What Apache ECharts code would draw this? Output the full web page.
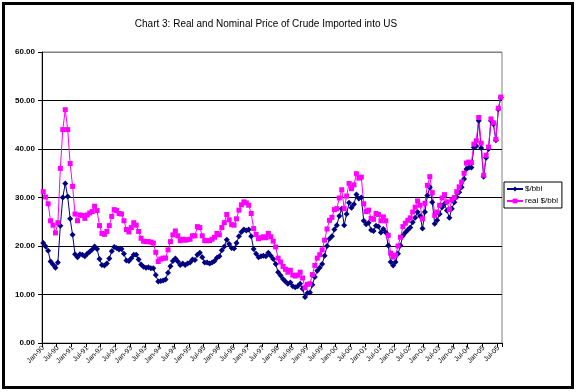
<!DOCTYPE html>
<html><head><meta charset="utf-8">
<script src="https://cdn.jsdelivr.net/npm/echarts@6/dist/echarts.min.js"></script>
<style>html,body{margin:0;padding:0;background:#fff}#c{width:576px;height:392px}</style>
</head><body><div id="c"></div>
<script>
var monthNames = ['Jan','Feb','Mar','Apr','May','Jun','Jul','Aug','Sep','Oct','Nov','Dec'];
var firstYear = 1990, lastYear = 2005, lastMonthCount = 8;
var yTicks = [0, 10, 20, 30, 40, 50, 60];

var nominal = [
 20.6, 19.9, 19.0, 16.8, 16.2, 15.5, 16.6, 24.2, 30.0, 32.9, 30.2, 25.6,
 22.3, 18.3, 17.7, 18.3, 18.2, 17.9, 18.4, 18.8, 19.3, 19.9, 19.4, 17.3,
 16.1, 16.0, 16.4, 17.4, 18.9, 19.8, 19.6, 19.3, 19.4, 18.4, 17.0, 16.9,
 17.5, 18.2, 18.2, 17.2, 16.2, 15.7, 15.5, 15.6, 15.4, 15.4, 14.0, 12.7,
 12.8, 12.9, 13.1, 14.5, 15.8, 16.9, 17.4, 16.8, 16.1, 16.4, 16.1, 16.4,
 16.6, 17.2, 17.1, 18.2, 18.6, 17.7, 16.6, 16.6, 16.4, 16.6, 16.9, 17.6,
 17.9, 19.1, 19.9, 21.3, 20.4, 19.6, 19.5, 20.6, 22.0, 22.9, 23.4, 23.2,
 23.4, 22.0, 19.4, 18.4, 17.7, 17.9, 18.0, 17.9, 18.6, 18.0, 17.3, 16.3,
 14.6, 13.9, 13.2, 12.7, 12.2, 12.5, 11.7, 11.5, 11.7, 12.2, 11.2, 9.5,
 10.3, 10.4, 12.0, 13.6, 14.9, 15.5, 16.3, 18.0, 20.0, 21.5, 22.0, 23.4,
 24.3, 26.2, 27.7, 24.3, 26.6, 28.9, 27.9, 28.6, 30.6, 29.8, 30.0, 25.2,
 24.5, 24.8, 23.3, 23.1, 24.2, 24.0, 22.8, 23.5, 22.8, 20.1, 16.7, 16.0,
 16.7, 18.4, 20.1, 22.1, 22.8, 23.3, 23.8, 24.9, 25.8, 27.0, 26.2, 23.6,
 27.0, 30.4, 32.1, 29.0, 24.6, 25.3, 26.6, 28.0, 28.7, 27.3, 25.8, 27.7,
 29.0, 30.1, 31.1, 32.1, 33.8, 35.9, 36.2, 36.2, 40.3, 40.6, 45.8, 40.2,
 34.3, 38.2, 40.0, 45.8, 45.1, 41.8, 48.2, 50.6
];
var real = [
 31.2, 30.1, 28.7, 25.2, 24.3, 22.7, 24.8, 36.0, 44.0, 48.1, 44.0, 37.0,
 32.3, 26.6, 25.2, 26.4, 26.3, 25.7, 26.4, 26.8, 27.1, 28.2, 27.3, 24.2,
 22.6, 22.4, 23.0, 24.2, 26.1, 27.5, 27.3, 26.7, 26.6, 25.2, 23.4, 22.9,
 23.8, 24.8, 24.3, 23.0, 21.6, 21.0, 20.9, 20.9, 20.8, 20.6, 18.7, 16.8,
 17.3, 17.5, 17.5, 19.2, 20.9, 22.3, 23.1, 22.1, 21.1, 21.4, 21.2, 21.3,
 21.4, 22.1, 22.1, 24.0, 23.8, 22.1, 21.1, 21.1, 21.1, 21.4, 21.8, 22.6,
 22.3, 23.8, 24.8, 26.5, 25.4, 24.4, 24.3, 25.6, 27.4, 28.5, 29.1, 28.9,
 28.4, 26.7, 23.6, 22.4, 21.5, 21.7, 21.9, 21.7, 22.6, 21.9, 21.0, 19.8,
 17.5, 16.7, 15.8, 15.2, 14.6, 15.0, 14.0, 13.8, 14.0, 14.6, 13.4, 11.4,
 12.1, 12.2, 14.1, 16.0, 17.5, 18.2, 19.2, 21.2, 23.5, 25.3, 25.9, 27.5,
 27.7, 29.9, 31.6, 27.7, 30.3, 32.9, 31.8, 32.6, 34.9, 34.0, 34.2, 28.7,
 27.1, 27.4, 25.7, 25.5, 26.7, 26.5, 25.2, 26.0, 25.2, 22.2, 18.5, 17.7,
 18.1, 20.0, 21.8, 24.0, 24.7, 25.3, 25.8, 27.0, 28.0, 29.3, 28.4, 25.6,
 28.8, 32.5, 34.3, 31.0, 26.3, 27.0, 28.4, 29.9, 30.6, 29.1, 27.5, 29.5,
 30.0, 31.2, 32.2, 33.2, 35.0, 37.1, 37.3, 37.2, 41.0, 41.7, 46.5, 41.2,
 34.6, 38.7, 40.4, 46.2, 45.4, 42.0, 48.4, 50.7
];

var categories = [];
for (var y = firstYear; y <= lastYear; y++) {
  var n = (y === lastYear) ? lastMonthCount : 12;
  for (var m = 0; m < n; m++) categories.push(monthNames[m] + '-' + String(y).slice(2));
}

var FONT = 'Arial, "Liberation Sans", sans-serif';
var chart = echarts.init(document.getElementById('c'), null, {renderer: 'canvas'});
chart.setOption({
  animation: false,
  backgroundColor: '#fff',
  title: {
    text: 'Chart 3: Real and Nominal Price of Crude Imported into US',
    left: 261, top: 14, textAlign: 'center',
    textStyle: {fontFamily: FONT, fontSize: 10, fontWeight: 'normal', color: '#000'}
  },
  graphic: [{
    type: 'rect', silent: true, z: 100,
    shape: {x: 3.5, y: 3.5, width: 569, height: 384},
    style: {fill: 'none', stroke: '#000', lineWidth: 3}
  }],
  legend: {
    orient: 'vertical', left: 504, top: 182,
    borderColor: '#000', borderWidth: 1, padding: [3, 4, 3, 2],
    itemWidth: 16, itemHeight: 6, itemGap: 4,
    textStyle: {fontFamily: FONT, fontSize: 8, color: '#000', padding: [0, 0, 0, -3]},
    data: ['$/bbl', 'real $/bbl']
  },
  grid: {left: 42, right: 74, top: 52, bottom: 49, show: true, borderColor: '#808080', borderWidth: 1},
  xAxis: {
    type: 'category', data: categories, boundaryGap: true,
    axisLine: {lineStyle: {color: '#000', width: 1}},
    axisTick: {show: true, interval: 5, length: 4, inside: false, lineStyle: {color: '#000'}},
    axisLabel: {interval: 5, rotate: 45, fontSize: 7, fontFamily: FONT, color: '#000', margin: 4},
    splitLine: {show: false}
  },
  yAxis: {
    type: 'value', min: yTicks[0], max: yTicks[yTicks.length - 1], interval: 10,
    axisLine: {show: true, lineStyle: {color: '#000', width: 1}},
    axisTick: {show: true, length: 4, lineStyle: {color: '#000'}},
    axisLabel: {fontSize: 8, fontFamily: FONT, fontWeight: 'bold', color: '#000', margin: 7,
      formatter: function (v) { return v.toFixed(2); }},
    splitLine: {show: true, lineStyle: {color: ['#000', '#000', '#000', '#000', '#000', '#000', '#808080'], width: 1}}
  },
  series: [{
    name: '$/bbl', type: 'line', data: nominal,
    symbol: 'diamond', symbolSize: 6, showAllSymbol: true,
    lineStyle: {color: '#000080', width: 1},
    itemStyle: {color: '#000080'}
  }, {
    name: 'real $/bbl', type: 'line', data: real,
    symbol: 'rect', symbolSize: 5, showAllSymbol: true,
    lineStyle: {color: '#FF00FF', width: 1},
    itemStyle: {color: '#FF00FF'}
  }]
});
</script></body></html>
